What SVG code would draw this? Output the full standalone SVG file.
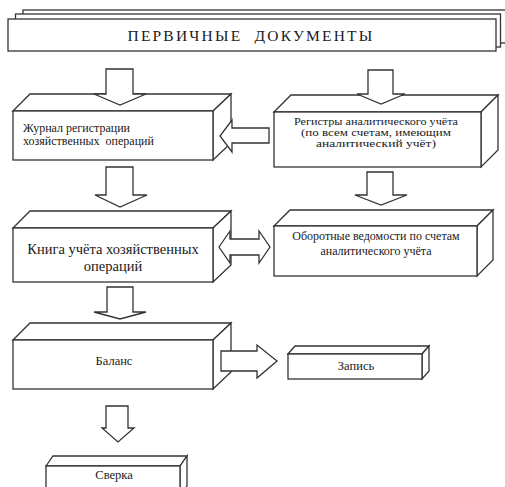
<svg xmlns="http://www.w3.org/2000/svg" width="505" height="487" viewBox="0 0 505 487">
  <style>
    .face { fill: #ffffff; stroke: #333333; stroke-width: 1.3; stroke-linejoin: miter; }
    .arrow { fill: #ffffff; stroke: #333333; stroke-width: 1.3; stroke-linejoin: miter; }
    .lbl { fill: #1a1a1a; }
    .s11 { font-size: 11px; }
    .s12 { font-size: 12px; }
    .s125 { font-size: 12.5px; }
    .s14 { font-size: 14.5px; }
  </style>

  <g font-family="'Liberation Serif', 'DejaVu Serif', serif">
  <!-- Header: stacked sheets -->
  <g id="header">
    <rect class="face" x="23" y="10" width="484" height="33"/>
    <rect class="face" x="15.5" y="14" width="485" height="33"/>
    <rect class="face" x="8" y="19" width="488" height="32"/>
    <text class="lbl" x="251" y="41" text-anchor="middle" font-size="15.5" letter-spacing="2.2" xml:space="preserve">ПЕРВИЧНЫЕ  ДОКУМЕНТЫ</text>
  </g>

  <!-- Journal of business transactions -->
  <g id="journal">
    <polygon class="face" points="13,111 30,94 231,94 213,111"/>
    <polygon class="face" points="213,111 231,94 231,143 213,160"/>
    <rect class="face" x="13" y="111" width="200" height="49"/>
    <text class="lbl s12" x="23" y="132">Журнал регистрации</text>
    <text class="lbl s12" x="23" y="145" xml:space="preserve">хозяйственных  операций</text>
  </g>

  <!-- Analytical registers -->
  <g id="registers">
    <polygon class="face" points="274,112 291,95 498,95 481,112"/>
    <polygon class="face" points="481,112 498,95 498,150 481,167"/>
    <rect class="face" x="274" y="112" width="207" height="55"/>
    <text class="lbl s11" x="376" y="125" text-anchor="middle" textLength="164" lengthAdjust="spacingAndGlyphs">Регистры аналитического учёта</text>
    <text class="lbl s11" x="376" y="136" text-anchor="middle" textLength="150" lengthAdjust="spacingAndGlyphs">(по всем счетам, имеющим</text>
    <text class="lbl s11" x="376" y="147" text-anchor="middle" textLength="120" lengthAdjust="spacingAndGlyphs">аналитический учёт)</text>
  </g>

  <!-- General ledger book -->
  <g id="book">
    <polygon class="face" points="13,228 30,211 231,211 213,228"/>
    <polygon class="face" points="213,228 231,211 231,265 213,282"/>
    <rect class="face" x="13" y="228" width="200" height="54"/>
    <text class="lbl s14" x="113" y="254" text-anchor="middle">Книга учёта хозяйственных</text>
    <text class="lbl s14" x="113" y="271" text-anchor="middle">операций</text>
  </g>

  <!-- Turnover sheets -->
  <g id="turnover">
    <polygon class="face" points="274,226 290,210 493,210 477,226"/>
    <polygon class="face" points="477,226 493,210 493,260 477,276"/>
    <rect class="face" x="274" y="226" width="203" height="50"/>
    <text class="lbl s12" x="376" y="240" text-anchor="middle">Оборотные ведомости по счетам</text>
    <text class="lbl s12" x="376" y="255" text-anchor="middle">аналитического учёта</text>
  </g>

  <!-- Balance -->
  <g id="balance">
    <polygon class="face" points="13,340 30,323 231,323 213,340"/>
    <polygon class="face" points="213,340 231,323 231,372 213,389"/>
    <rect class="face" x="13" y="340" width="200" height="49"/>
    <text class="lbl s125" x="114" y="365" text-anchor="middle">Баланс</text>
  </g>

  <!-- Record -->
  <g id="record">
    <polygon class="face" points="288,354 295,346 429,346 422,354"/>
    <polygon class="face" points="422,354 429,346 429,371 422,379"/>
    <rect class="face" x="288" y="354" width="134" height="25"/>
    <text class="lbl s125" x="356" y="369.5" text-anchor="middle">Запись</text>
  </g>

  <!-- Reconciliation -->
  <g id="check">
    <polygon class="face" points="46,466 53,456 187,456 180,466"/>
    <polygon class="face" points="180,466 187,456 187,486 180,496"/>
    <rect class="face" x="46" y="466" width="134" height="30"/>
    <text class="lbl s125" x="114" y="478.5" text-anchor="middle">Сверка</text>
  </g>
  </g>

  <!-- Block-arrow connectors -->
  <g id="connectors">
    <polygon class="arrow" points="106,69 133,69 133,94 146,94 120,105 94,94 106,94"/>
    <polygon class="arrow" points="368,70 393,70 393,94 405,94 381,104 357,94 368,94"/>
    <polygon class="arrow" points="269,128 269,143 232,143 232,152 220,136 232,120 232,128"/>
    <polygon class="arrow" points="106,167 133,167 133,195 147,195 120,207 95,195 106,195"/>
    <polygon class="arrow" points="367,172 393,172 393,195 407,195 381,205 355,195 367,195"/>
    <polygon class="arrow" points="219,247 230,231 230,239 259,239 259,231 270,247 259,263 259,255 230,255 230,263"/>
    <polygon class="arrow" points="107,287 133,287 133,312 146,312 120,319 94,312 107,312"/>
    <polygon class="arrow" points="221,351 257,351 257,345 277,361 257,378 257,371 221,371"/>
    <polygon class="arrow" points="106,406 128,406 128,428 134,428 118,442 102,428 106,428"/>
  </g>
</svg>
